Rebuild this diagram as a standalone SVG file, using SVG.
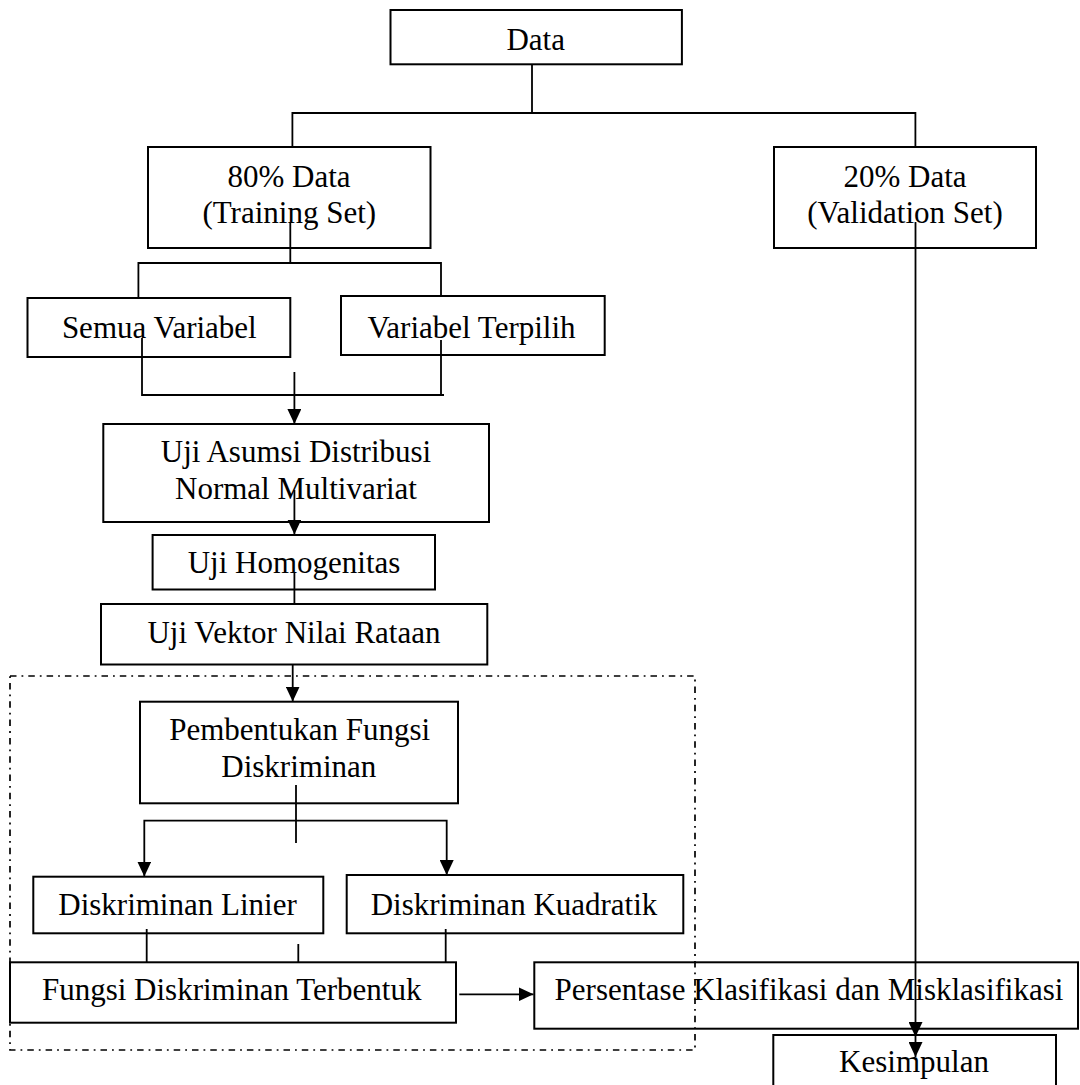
<svg xmlns="http://www.w3.org/2000/svg" width="1080" height="1085" viewBox="0 0 1080 1085">
<style>
.box{fill:none;stroke:#000;stroke-width:2}
.ln{fill:none;stroke:#000;stroke-width:1.8}
.t{font-family:"Liberation Serif","Times New Roman",serif;font-size:31px;fill:#000;text-anchor:middle}
.dash{fill:none;stroke:#000;stroke-width:1.7;stroke-dasharray:6.5 5 1.8 5}
</style>
<defs>
<marker id="arr" markerUnits="userSpaceOnUse" markerWidth="15" markerHeight="14" viewBox="0 0 15 14" refX="15" refY="7" orient="auto">
<path d="M0,0 L15,7 L0,14 z" fill="#000"/>
</marker>
</defs>
<rect width="1080" height="1085" fill="#fff"/>

<g id="group-dashed">
<rect class="dash" x="10" y="676" width="685" height="374"/>
</g>

<g id="connectors">
<path class="ln" d="M532 64 V113 M292.4 147 V113 H915.4 V147"/>
<path class="ln" d="M290.3 222 V263 M138.4 298 V263 H441 V296"/>
<path class="ln" d="M142 338 V395 H444 M441 340 V395"/>
<path class="ln" d="M294.4 372 V424" marker-end="url(#arr)"/>
<path class="ln" d="M294.4 490 V534.5" marker-end="url(#arr)"/>
<path class="ln" d="M294.4 573 V604"/>
<path class="ln" d="M292.7 664.5 V701.5" marker-end="url(#arr)"/>
<path class="ln" d="M296 785 V843"/>
<path class="ln" d="M296 820.7 H144.3 V876.5" marker-end="url(#arr)"/>
<path class="ln" d="M296 820.7 H446.7 V875" marker-end="url(#arr)"/>
<path class="ln" d="M146.7 929 V962 M298.3 944 V962 M445.7 929 V962"/>
<path class="ln" d="M459.3 994.3 H533.5" marker-end="url(#arr)"/>
<path class="ln" d="M915.5 222 V1037 V1057" marker-mid="url(#arr)" marker-end="url(#arr)"/>
</g>

<g id="node-data">
<rect class="box" x="390.5" y="10" width="291.4" height="54.3"/>
<text class="t" x="535.7" y="50">Data</text>
</g>
<g id="node-training">
<rect class="box" x="148" y="147" width="282.5" height="101"/>
<text class="t" x="289" y="186.7">80% Data</text>
<text class="t" x="289.3" y="222.5">(Training Set)</text>
</g>
<g id="node-validation">
<rect class="box" x="774" y="147" width="262" height="101"/>
<text class="t" x="905" y="186.7">20% Data</text>
<text class="t" x="905" y="222.5">(Validation Set)</text>
</g>
<g id="node-semua">
<rect class="box" x="27.5" y="298" width="262.8" height="59"/>
<text class="t" x="159.3" y="338.3">Semua Variabel</text>
</g>
<g id="node-terpilih">
<rect class="box" x="341" y="296" width="263.7" height="59"/>
<text class="t" x="471.5" y="338">Variabel Terpilih</text>
</g>
<g id="node-normal">
<rect class="box" x="103.3" y="424" width="385.7" height="98"/>
<text class="t" x="296" y="461.7">Uji Asumsi Distribusi</text>
<text class="t" x="296" y="499.3">Normal Multivariat</text>
</g>
<g id="node-homogen">
<rect class="box" x="152.6" y="535" width="282.4" height="54.5"/>
<text class="t" x="294" y="573.3">Uji Homogenitas</text>
</g>
<g id="node-vektor">
<rect class="box" x="101" y="604" width="386.3" height="60.5"/>
<text class="t" x="294" y="643.3">Uji Vektor Nilai Rataan</text>
</g>
<g id="node-pembentukan">
<rect class="box" x="140" y="701.7" width="318" height="101.6"/>
<text class="t" x="299.7" y="740">Pembentukan Fungsi</text>
<text class="t" x="298.8" y="776.7">Diskriminan</text>
</g>
<g id="node-linier">
<rect class="box" x="33.3" y="876.7" width="290" height="56.6"/>
<text class="t" x="177.5" y="915">Diskriminan Linier</text>
</g>
<g id="node-kuadratik">
<rect class="box" x="346.7" y="875" width="336.6" height="58.3"/>
<text class="t" x="514" y="915">Diskriminan Kuadratik</text>
</g>
<g id="node-terbentuk">
<rect class="box" x="10" y="962.3" width="446" height="60.4"/>
<text class="t" x="231.7" y="1000">Fungsi Diskriminan Terbentuk</text>
</g>
<g id="node-persentase">
<rect class="box" x="534.3" y="962.3" width="543.7" height="66.4"/>
<text class="t" x="809" y="1000">Persentase Klasifikasi dan Misklasifikasi</text>
</g>
<g id="node-kesimpulan">
<rect class="box" x="773.3" y="1035" width="282.7" height="60"/>
<text class="t" x="914" y="1071.7">Kesimpulan</text>
</g>
</svg>
